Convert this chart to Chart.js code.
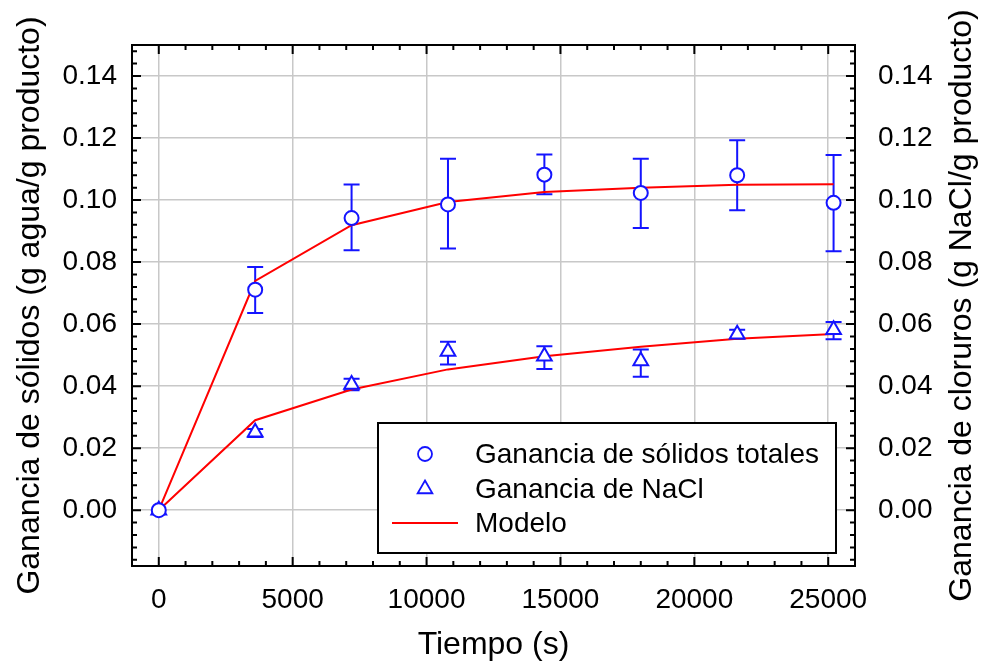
<!DOCTYPE html>
<html><head><meta charset="utf-8">
<script src="https://cdn.jsdelivr.net/npm/chart.js@4.4.1/dist/chart.umd.min.js"></script>
<style>html,body{margin:0;padding:0;background:#fff;}canvas{display:block;}</style>
</head><body>
<canvas id="c" width="984" height="668"></canvas>
<script>
const tiempo = [0, 3600, 7200, 10800, 14400, 18000, 21600, 25200];
const solidos = [0, 0.0711, 0.0942, 0.0986, 0.1082, 0.1023, 0.1080, 0.0991];
const solidosLow = [0, 0.0636, 0.0838, 0.0844, 0.1019, 0.0910, 0.0967, 0.0835];
const solidosHigh = [0, 0.0784, 0.1050, 0.1133, 0.1147, 0.1133, 0.1193, 0.1145];
const nacl = [0, 0.0251, 0.0405, 0.0512, 0.0496, 0.0481, 0.0567, 0.0582];
const naclLow = [0, 0.0236, 0.0387, 0.0470, 0.0455, 0.0430, 0.0553, 0.0551];
const naclHigh = [0, 0.0262, 0.0424, 0.0543, 0.0529, 0.0518, 0.0582, 0.0607];
const modeloSolidos = [0, 0.0739, 0.0919, 0.0994, 0.1026, 0.1040, 0.1049, 0.1051];
const modeloNacl = [0, 0.0290, 0.0389, 0.0454, 0.0496, 0.0527, 0.0553, 0.0568];
const xTicks = [0, 5000, 10000, 15000, 20000, 25000];
const yTicks = [0, 0.02, 0.04, 0.06, 0.08, 0.10, 0.12, 0.14];
const legendLabels = ['Ganancia de sólidos totales', 'Ganancia de NaCl', 'Modelo'];
const xTitle = 'Tiempo (s)';
const yTitle = 'Ganancia de sólidos (g agua/g producto)';
const y2Title = 'Ganancia de cloruros (g NaCl/g producto)';

const FONT = '"Liberation Sans", Arial, sans-serif';
const BLUE = '#1414ff';
const RED = '#ff0000';
const GRID = '#c8c8c8';

const pts = (ys) => tiempo.map((t, i) => ({x: t, y: ys[i]}));

const errorBars = {
  id: 'errorBars',
  beforeDatasetsDraw(chart) {
    const {ctx, scales} = chart;
    const sets = [[solidosLow, solidosHigh, scales.y], [naclLow, naclHigh, scales.y2]];
    ctx.save();
    ctx.strokeStyle = BLUE; ctx.lineWidth = 2;
    ctx.beginPath();
    sets.forEach(([lo, hi, ys]) => {
      tiempo.forEach((t, i) => {
        if (hi[i] === lo[i]) return;
        const px = scales.x.getPixelForValue(t);
        const p1 = ys.getPixelForValue(lo[i]);
        const p2 = ys.getPixelForValue(hi[i]);
        ctx.moveTo(px, p1); ctx.lineTo(px, p2);
        ctx.moveTo(px - 8, p1); ctx.lineTo(px + 8, p1);
        ctx.moveTo(px - 8, p2); ctx.lineTo(px + 8, p2);
      });
    });
    ctx.stroke();
    ctx.restore();
  }
};

const frameTicks = {
  id: 'frameTicks',
  afterDatasetsDraw(chart) {
    const {ctx, chartArea: a, scales: {x, y}} = chart;
    ctx.save();
    ctx.strokeStyle = '#000'; ctx.lineWidth = 2;
    ctx.beginPath();
    for (let k = 0; k <= 25; k++) {
      const px = x.getPixelForValue(k * 1000);
      const len = k % 5 === 0 ? 9 : 5;
      ctx.moveTo(px, a.bottom); ctx.lineTo(px, a.bottom - len);
      ctx.moveTo(px, a.top); ctx.lineTo(px, a.top + len);
    }
    for (let k = -4; k <= 37; k++) {
      const py = y.getPixelForValue(k * 0.004);
      const len = k % 5 === 0 ? 9 : 5;
      ctx.moveTo(a.left, py); ctx.lineTo(a.left + len, py);
      ctx.moveTo(a.right, py); ctx.lineTo(a.right - len, py);
    }
    ctx.stroke();
    ctx.strokeRect(a.left, a.top, a.right - a.left, a.bottom - a.top);
    ctx.restore();
  },
  afterDraw(chart) {
    const {ctx, chartArea: a} = chart;
    ctx.save();
    // right axis title (reads bottom to top)
    ctx.translate(962, (a.top + a.bottom) / 2);
    ctx.rotate(-Math.PI / 2);
    ctx.fillStyle = '#000';
    ctx.font = '32px ' + FONT;
    ctx.textAlign = 'center'; ctx.textBaseline = 'middle';
    ctx.fillText(y2Title, 0, 0);
    ctx.restore();

    // legend
    const w = 458, h = 130;
    const L = a.right - 19 - w, T = a.bottom - 13 - h;
    ctx.save();
    ctx.fillStyle = '#fff';
    ctx.fillRect(L, T, w, h);
    ctx.strokeStyle = '#000'; ctx.lineWidth = 2;
    ctx.strokeRect(L, T, w, h);
    const rows = [T + 31, T + 66, T + 100];
    const mx = L + 47;
    ctx.strokeStyle = BLUE; ctx.lineWidth = 1.8; ctx.fillStyle = '#fff';
    ctx.beginPath(); ctx.arc(mx, rows[0], 7, 0, Math.PI * 2); ctx.fill(); ctx.stroke();
    const r = 8.5, cy = rows[1];
    ctx.beginPath();
    ctx.moveTo(mx, cy - r);
    ctx.lineTo(mx + r * Math.sin(Math.PI / 3), cy + r * 0.5);
    ctx.lineTo(mx - r * Math.sin(Math.PI / 3), cy + r * 0.5);
    ctx.closePath(); ctx.fill(); ctx.stroke();
    ctx.strokeStyle = RED; ctx.lineWidth = 2;
    ctx.beginPath(); ctx.moveTo(L + 14, rows[2]); ctx.lineTo(L + 80, rows[2]); ctx.stroke();
    ctx.fillStyle = '#000';
    ctx.font = '28px ' + FONT;
    ctx.textAlign = 'left'; ctx.textBaseline = 'middle';
    legendLabels.forEach((s, i) => ctx.fillText(s, L + 97, rows[i] + 1));
    ctx.restore();
  }
};

const tickFont = {family: FONT, size: 28};
const titleFont = {family: FONT, size: 32};

new Chart(document.getElementById('c'), {
  type: 'scatter',
  data: {
    datasets: [
      {label: legendLabels[0], data: pts(solidos), yAxisID: 'y', pointStyle: 'circle', pointRadius: 7,
        borderColor: BLUE, backgroundColor: '#fff', borderWidth: 2, showLine: false, order: 1},
      {label: legendLabels[1], data: pts(nacl), yAxisID: 'y2', pointStyle: 'triangle', pointRadius: 8.5,
        borderColor: BLUE, backgroundColor: '#fff', borderWidth: 2, showLine: false, order: 2},
      {label: legendLabels[2], data: pts(modeloSolidos), yAxisID: 'y', showLine: true, borderColor: RED,
        borderWidth: 2, pointRadius: 0, tension: 0, fill: false, order: 3},
      {label: legendLabels[2] + ' NaCl', data: pts(modeloNacl), yAxisID: 'y2', showLine: true, borderColor: RED,
        borderWidth: 2, pointRadius: 0, tension: 0, fill: false, order: 4}
    ]
  },
  options: {
    responsive: false,
    devicePixelRatio: 1,
    animation: false,
    events: [],
    layout: {padding: {top: 45, left: 0, right: 0, bottom: 0}},
    plugins: {legend: {display: false}, tooltip: {enabled: false}},
    scales: {
      x: {
        type: 'linear', position: 'bottom', min: -1000, max: 26000,
        afterBuildTicks: s => { s.ticks = xTicks.map(v => ({value: v})); },
        afterFit: s => { s.height = 102; },
        grid: {color: GRID, lineWidth: 1.5, drawTicks: false},
        border: {display: false},
        ticks: {font: tickFont, color: '#000', padding: 17, maxRotation: 0, autoSkip: false, callback: v => String(v)},
        title: {display: true, text: xTitle, font: titleFont, color: '#000', padding: {top: 0, bottom: 4}}
      },
      y: {
        type: 'linear', position: 'left', min: -0.018, max: 0.15,
        afterBuildTicks: s => { s.ticks = yTicks.map(v => ({value: v})); },
        afterFit: s => { s.width = 132; },
        grid: {color: GRID, lineWidth: 1.5, drawTicks: false},
        border: {display: false},
        ticks: {font: tickFont, color: '#000', padding: 15, autoSkip: false, callback: v => v.toFixed(2)},
        title: {display: true, text: yTitle, font: titleFont, color: '#000', padding: {top: 11, bottom: 0}}
      },
      y2: {
        type: 'linear', position: 'right', min: -0.018, max: 0.15,
        afterBuildTicks: s => { s.ticks = yTicks.map(v => ({value: v})); },
        afterFit: s => { s.width = 129; },
        grid: {display: false, drawTicks: false},
        border: {display: false},
        ticks: {font: tickFont, color: '#000', padding: 23, autoSkip: false, callback: v => v.toFixed(2)},
        title: {display: false}
      }
    }
  },
  plugins: [errorBars, frameTicks]
});
</script>
</body></html>
